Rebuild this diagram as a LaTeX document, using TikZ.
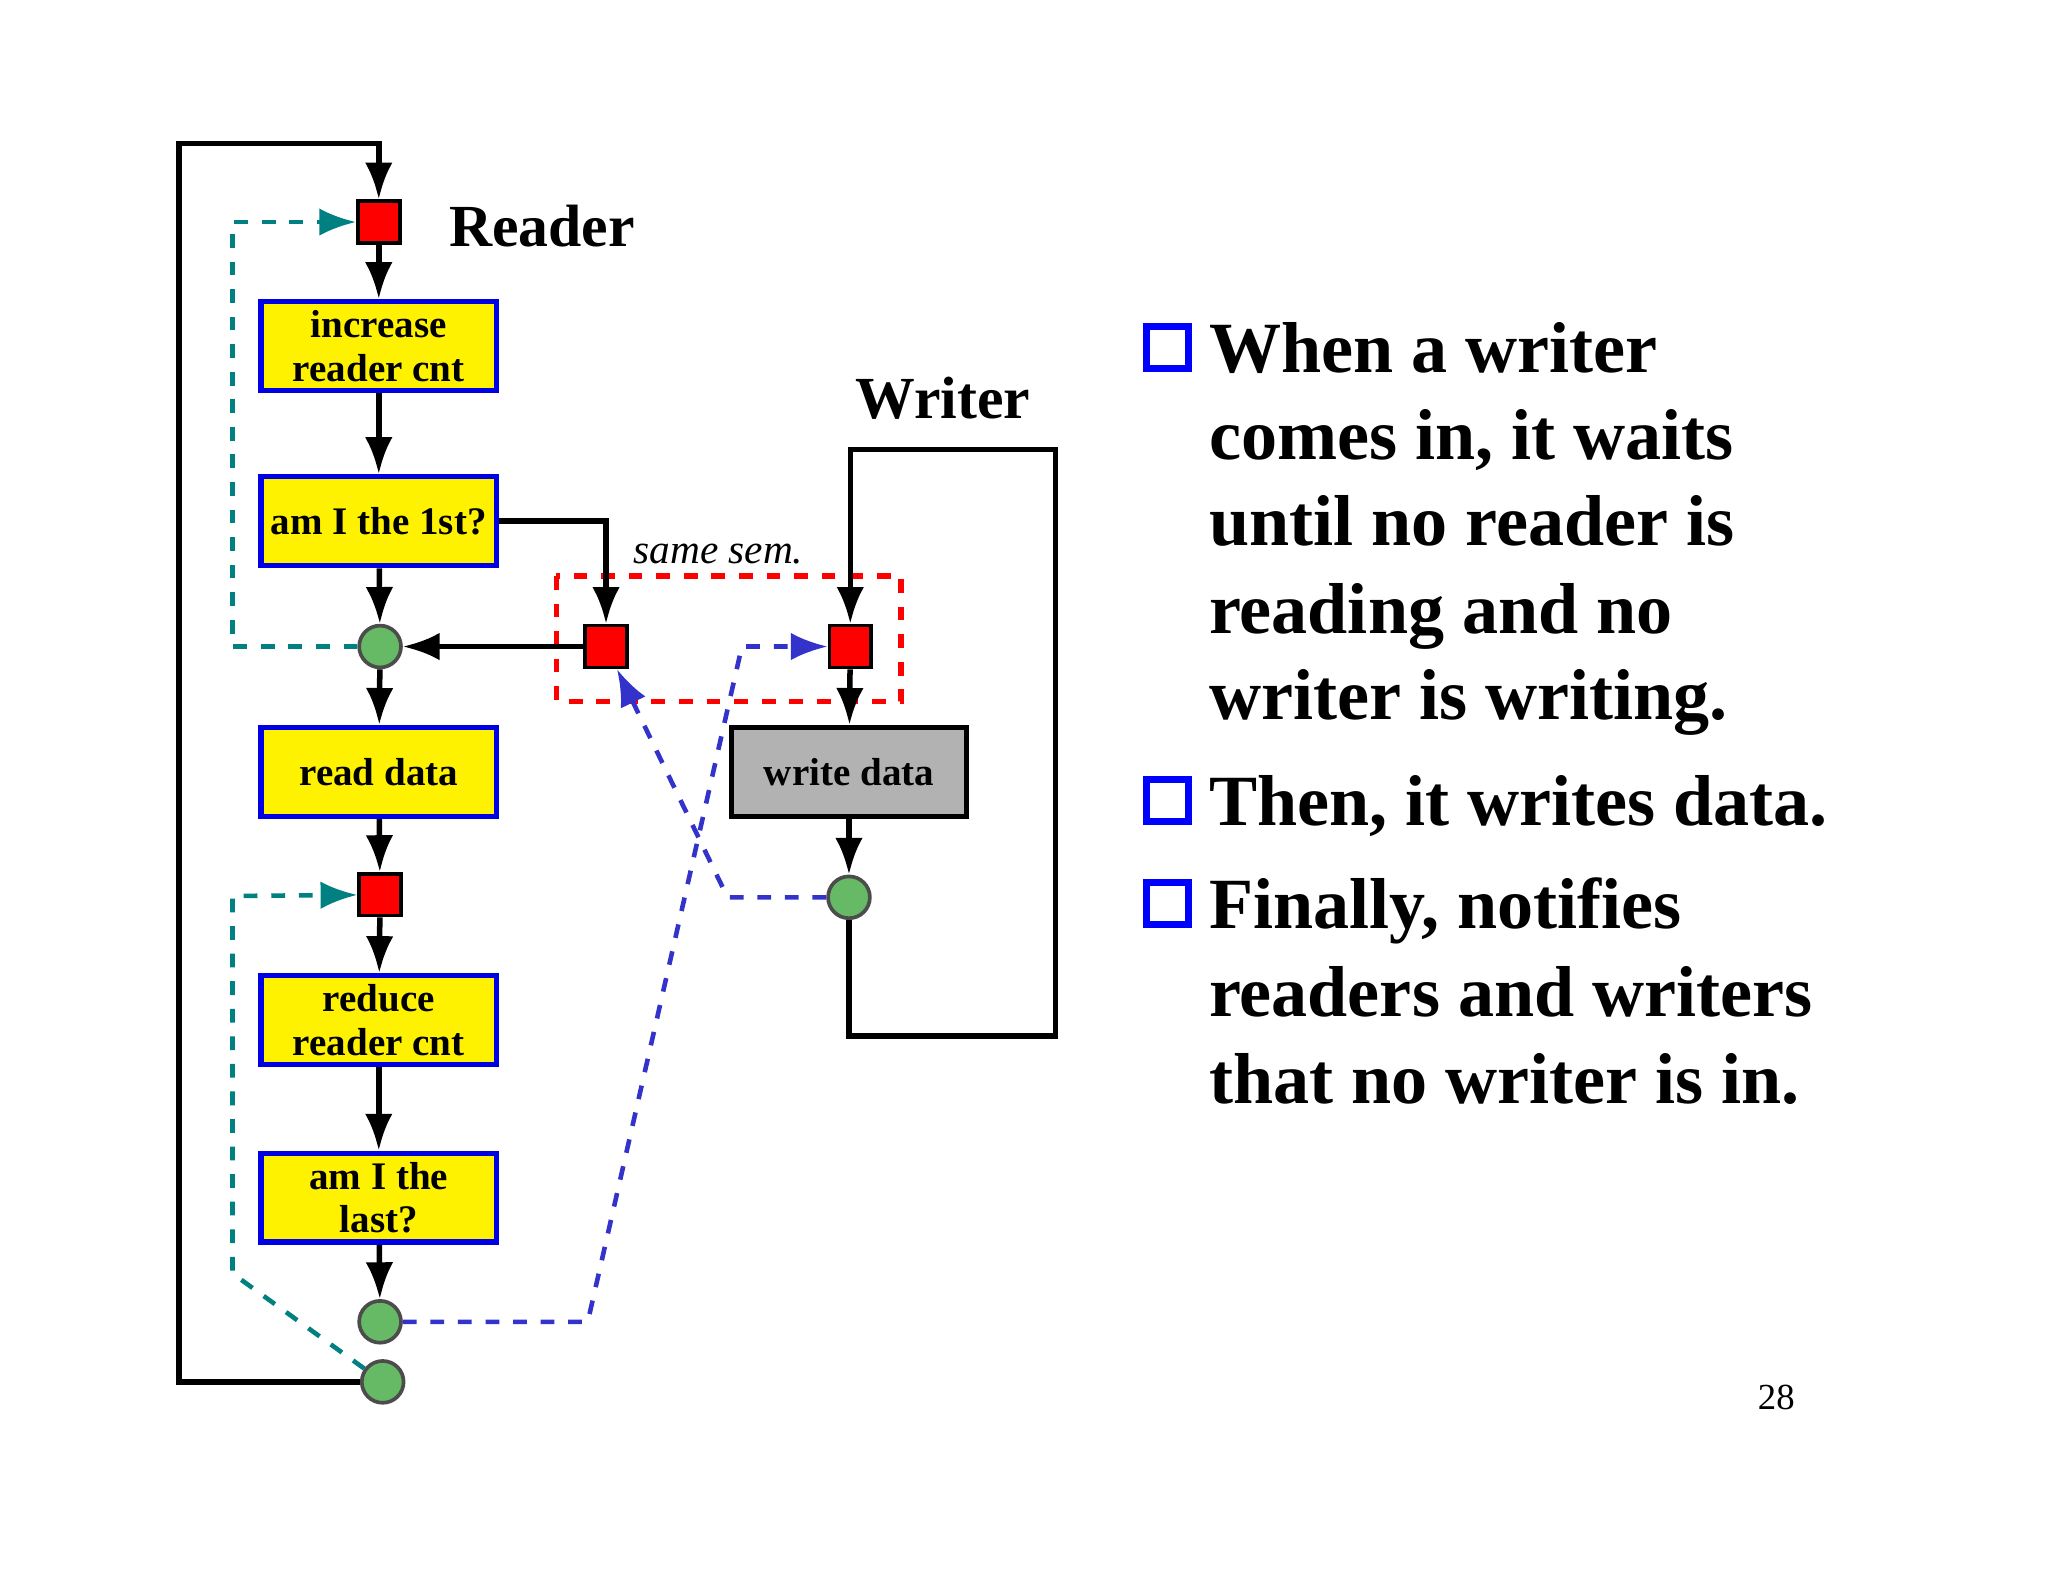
\documentclass[tikz,border=0pt]{standalone}
\usepackage{fontspec}
\setmainfont{Liberation Serif}
\usetikzlibrary{arrows.meta}
\begin{document}
\begin{tikzpicture}[x=0.01cm,y=-0.01cm,
  box/.style={draw=blue!90!black,line width=1.2pt,fill=yellow,minimum width=1.8cm,minimum height=0.68cm,align=center,inner sep=1pt,font=\bfseries\fontsize{8.5}{8.5}\selectfont},
  sem/.style={draw=black,line width=0.8pt,fill=red,minimum size=0.32cm,inner sep=0pt},
  cir/.style={circle,draw=black!70,line width=0.8pt,fill=green!55!black!60,minimum size=0.32cm,inner sep=0pt},
  flow/.style={line width=1.2pt,-{Latex[length=8pt,width=6pt]}},
  teal/.style={dashed,line width=1pt,draw=teal,-{Latex[length=8pt,width=6pt]}},
  blu/.style={dashed,line width=1pt,draw=blue!60!gray,-{Latex[length=8pt,width=6pt]}},
  txt/.style={anchor=base west,font=\bfseries\fontsize{15.7}{15.7}\selectfont,inner sep=0pt},
  bul/.style={draw=blue,line width=1.5pt,fill=white,minimum size=0.32cm,inner sep=0pt}]
\useasboundingbox[fill=white] (0,0) rectangle (1568,1212);
% reader
\node[sem] (r1) at (290,170) {};
\node[font=\bfseries\fontsize{13}{13}\selectfont] (lr) at (415,173) {Reader};
\node[box] (b1) at (290,265) {increase\\[1pt]reader cnt};
\node[box] (b2) at (290,399) {am I the 1st?};
\node[cir] (c1) at (291,495) {};
\node[box] (b3) at (290,591) {read data};
\node[sem] (r2) at (291,685) {};
\node[box] (b4) at (290,781) {reduce\\[1pt]reader cnt};
\node[box] (b5) at (290,917) {am I the\\[1pt]last?};
\node[cir] (c2) at (291,1012) {};
\node[cir] (c3) at (293,1058) {};
% writer
\node[sem] (r3) at (464,495) {};
\node[sem] (r4) at (651,495) {};
\draw[red,dashed,line width=1.2pt] (426,441) rectangle (690,537);
\node[font=\itshape\fontsize{9}{9}\selectfont] (ss) at (550,424) {same sem.};
\node[font=\bfseries\fontsize{13}{13}\selectfont] (lw) at (722,305) {Writer};
\node[box,fill=gray!60,draw=black] (w1) at (650,591) {write data};
\node[cir] (c4) at (650,687) {};
% flows
\draw[flow] (c3.west) -- (137,1058) -- (137,110) -- (290,110) -- (r1);
\draw[flow] (r1) -- (b1);
\draw[flow] (b1) -- (b2);
\draw[flow] (b2) -- (c1);
\draw[flow] (c1) -- (b3);
\draw[flow] (b3) -- (r2);
\draw[flow] (r2) -- (b4);
\draw[flow] (b4) -- (b5);
\draw[flow] (b5) -- (c2);
\draw[flow] (b2.east) -- (464,399) -- (r3);
\draw[flow] (r3) -- (c1);
\draw[flow] (r4) -- (w1);
\draw[flow] (w1) -- (c4);
\draw[flow] (c4) -- (650,793) -- (808,793) -- (808,344) -- (651,344) -- (r4);
% dashed
\draw[teal] (c1) -- (178,495) -- (178,170) -- (r1);
\draw[teal] (c3) -- (178,975) -- (178,686) -- (r2);
\draw[blu] (c4) -- (557,687) -- (r3);
\draw[blu] (c2) -- (450,1012) -- (568,495) -- (r4);
% text
\foreach \y in {268,615,694} \node[bul] at (894,\y-2) {};
\node[txt] (t1) at (925,285) {When a writer};
\node[txt] (t2) at (925,352) {comes in, it waits};
\node[txt] (t3) at (925,418) {until no reader is};
\node[txt] (t4) at (925,485) {reading and no};
\node[txt] (t5) at (925,551) {writer is writing.};
\node[txt] (t6) at (925,632) {Then, it writes data.};
\node[txt] (t7) at (925,711) {Finally, notifies};
\node[txt] (t8) at (925,778) {readers and writers};
\node[txt] (t9) at (925,845) {that no writer is in.};
\node[font=\fontsize{8}{8}\selectfont] (pg) at (1360,1070) {28};
\end{tikzpicture}
\end{document}
